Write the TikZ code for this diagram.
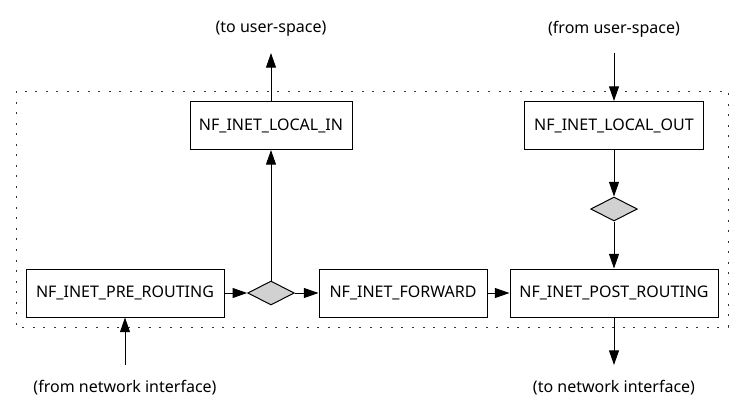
\documentclass[tikz,border=0pt]{standalone}
\usepackage{fontspec}
\setmainfont{Noto Sans}
\usepackage{tikz}
\usetikzlibrary{arrows.meta,positioning,calc,shapes.geometric}

\begin{document}
\begin{tikzpicture}[
  x=0.75pt,y=-0.75pt,
  every node/.style={font=\fontsize{12}{14}\selectfont,align=center,inner sep=0pt},
  hook/.style={draw=black,fill=white,line width=0.75pt,minimum height=36pt},
  decide/.style={diamond,draw=black,fill=black!18,line width=0.75pt,minimum width=35pt,minimum height=18pt,aspect=2},
  flow/.style={-{Triangle[length=11pt,width=7.5pt]},draw=black,line width=0.75pt},
  frame/.style={draw=black!80,line width=0.75pt,dash pattern=on 1.5pt off 6.4pt},
  side/.style={inner sep=0pt}
]
  \useasboundingbox (0,0) rectangle (747,419);
  \draw[frame] (16,91) rectangle (728,327);
  \node[hook,minimum width=148.5pt] (pre) at (125,293) {NF\_INET\_PRE\_ROUTING};
  \node[decide] (d1) at (271,293) {};
  \node[hook,minimum width=126pt] (fwd) at (403,293) {NF\_INET\_FORWARD};
  \node[hook,minimum width=156pt] (post) at (614,293) {NF\_INET\_POST\_ROUTING};
  \node[hook,minimum width=121.5pt] (lin) at (271,125.5) {NF\_INET\_LOCAL\_IN};
  \node[hook,minimum width=134pt] (lout) at (614,125.5) {NF\_INET\_LOCAL\_OUT};
  \node[decide] (d2) at (614,209) {};
  \node[side] (tous) at (271,29) {(to user-space)};
  \node[side] (fromus) at (614,29) {(from user-space)};
  \node[side] (fromni) at (125,388) {(from network interface)};
  \node[side] (toni) at (614,388) {(to network interface)};
  \coordinate (tousend) at (271,53);
  \coordinate (fromusend) at (614,53);
  \coordinate (fromniend) at (125,365);
  \coordinate (toniend) at (614,365);
  \draw[flow] (fromniend) -- (pre.south);
  \draw[flow] (pre.east) -- (d1.west);
  \draw[flow] (d1.east) -- (fwd.west);
  \draw[flow] (fwd.east) -- (post.west);
  \draw[flow] (d1.north) -- (lin.south);
  \draw[flow] (lin.north) -- (tousend);
  \draw[flow] (fromusend) -- (lout.north);
  \draw[flow] (lout.south) -- (d2.north);
  \draw[flow] (d2.south) -- (post.north);
  \draw[flow] (post.south) -- (toniend);
\end{tikzpicture}
\end{document}
